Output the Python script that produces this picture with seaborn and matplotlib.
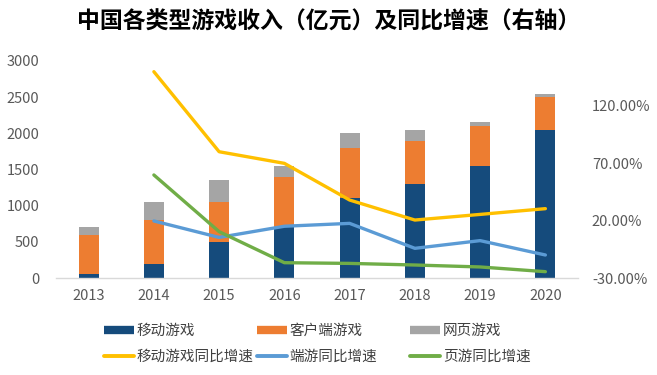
import numpy as np
import pandas as pd
import matplotlib
matplotlib.use("Agg")
import matplotlib.pyplot as plt
import seaborn as sns
from matplotlib.lines import Line2D
from matplotlib.ticker import FuncFormatter

years = ["2013", "2014", "2015", "2016", "2017", "2018", "2019", "2020"]
mobile = [60, 200, 500, 700, 1100, 1300, 1550, 2050]
client = [540, 600, 550, 700, 700, 600, 550, 450]
web = [100, 250, 300, 150, 200, 150, 50, 50]

growth_years = ["2014", "2015", "2016", "2017", "2018", "2019", "2020"]
mobile_growth = [149.4, 79.8, 69.7, 37.8, 20.4, 25.3, 30.3]
client_growth = [19.6, 5.3, 15.0, 17.5, -4.2, 2.5, -10.0]
web_growth = [59.6, 10.3, -16.7, -17.3, -18.7, -20.4, -24.5]

left_ticks = [0, 500, 1000, 1500, 2000, 2500, 3000]
right_ticks = [-30, 20, 70, 120]

title = "中国各类型游戏收入（亿元）及同比增速（右轴）"
labels_bar = ["移动游戏", "客户端游戏", "网页游戏"]
labels_line = ["移动游戏同比增速", "端游同比增速", "页游同比增速"]

c_mobile = "#154B7C"
c_client = "#ED7D31"
c_web = "#A5A5A5"
c_yel = "#FFC000"
c_blu = "#5B9BD5"
c_grn = "#70AD47"

sns.set_theme(style="white")
plt.rcParams["font.family"] = ["Noto Sans CJK SC", "DejaVu Sans"]

df = pd.DataFrame({"year": years, "mobile": mobile, "client": client, "web": web})
df["c1"] = df["mobile"] + df["client"]
df["c2"] = df["c1"] + df["web"]

fig = plt.figure(figsize=(6.57, 3.75), dpi=100)
ax = fig.add_axes([56 / 657, 1 - 278 / 375, (578 - 56) / 657, (278 - 61) / 375])

for col, color in [("c2", c_web), ("c1", c_client), ("mobile", c_mobile)]:
    sns.barplot(data=df, x="year", y=col, color=color, width=0.31, ax=ax,
                saturation=1, linewidth=0, order=years)

ax.set_xlim(-0.5, len(years) - 0.5)
ax.set_ylim(0, 3000)
ax.set_yticks(left_ticks)
ax.set_xlabel("")
ax.set_ylabel("")
for s in ["top", "right", "left"]:
    ax.spines[s].set_visible(False)
ax.spines["bottom"].set_color("#D9D9D9")
ax.spines["bottom"].set_linewidth(1)
ax.tick_params(axis="both", length=0, labelsize=10.5, colors="#595959")
ax.tick_params(axis="x", pad=8)
ax.tick_params(axis="y", pad=12)

ax2 = ax.twinx()
pos = [years.index(y) for y in growth_years]
gdf = pd.DataFrame({"pos": pos, "m": mobile_growth, "c": client_growth, "w": web_growth})
for col, color in [("m", c_yel), ("c", c_blu), ("w", c_grn)]:
    sns.lineplot(data=gdf, x="pos", y=col, color=color, linewidth=2.4, ax=ax2)
ax2.set_ylim(-30, 158.7)
ax2.set_yticks(right_ticks)
ax2.yaxis.set_major_formatter(FuncFormatter(lambda v, p: f"{v:.2f}%"))
ax2.set_xlabel("")
ax2.set_ylabel("")
for s in ["top", "right", "left", "bottom"]:
    ax2.spines[s].set_visible(False)
ax2.tick_params(axis="y", length=0, labelsize=10.5, colors="#595959", pad=10)
ax2.grid(False)
ax.grid(False)
ax2.set_xlim(-0.5, len(years) - 0.5)

fig.text(0.5, 1 - 22 / 375, title, ha="center", va="center", fontsize=16.5,
         fontweight="bold", color="#000000")

bar_colors = [c_mobile, c_client, c_web]
line_colors = [c_yel, c_blu, c_grn]
col_x = [104, 257, 410]
for i in range(3):
    hs = [Line2D([0], [0], color=bar_colors[i], lw=6, solid_capstyle="butt"),
          Line2D([0], [0], color=line_colors[i], lw=2.8, solid_capstyle="round")]
    leg = fig.legend(hs, [labels_bar[i], labels_line[i]], loc="center left",
                     bbox_to_anchor=(col_x[i] / 657, 1 - 344 / 375),
                     frameon=False, fontsize=10.5, handlelength=2.05, handletextpad=0.2,
                     labelspacing=0.8, borderpad=0, borderaxespad=0, labelcolor="#404040")

fig.savefig("out.png", dpi=100, facecolor="white")
